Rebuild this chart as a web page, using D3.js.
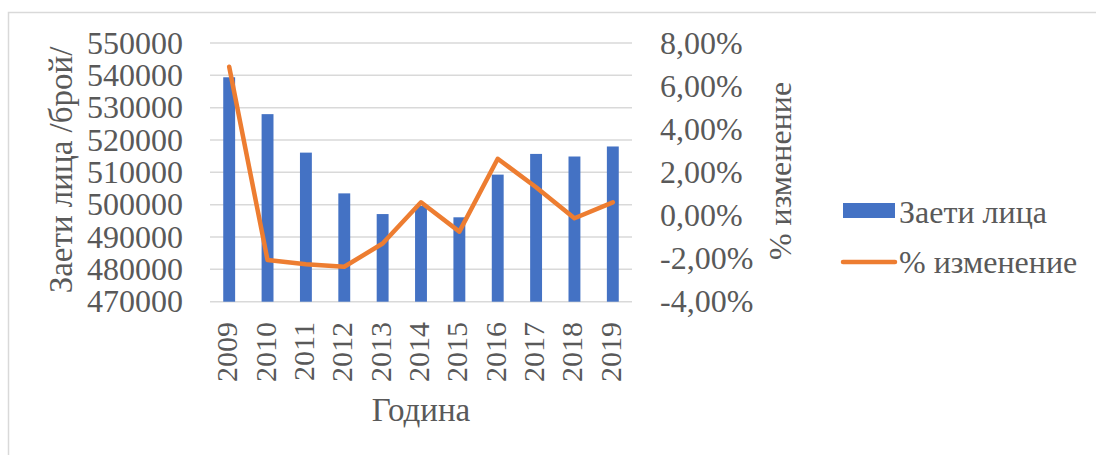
<!DOCTYPE html>
<html>
<head>
<meta charset="utf-8">
<script src="https://cdn.jsdelivr.net/npm/d3@7"></script>
<style>
  body { margin: 0; background: #fff; }
</style>
</head>
<body>
<svg id="chart" width="1096" height="455"></svg>
<script>
const years = ["2009", "2010", "2011", "2012", "2013", "2014", "2015", "2016", "2017", "2018", "2019"];
const employed = [539400, 528000, 516100, 503500, 497100, 499600, 496100, 509300, 515700, 514900, 518000];
const change = [6.9, -2.07, -2.26, -2.38, -1.3, 0.61, -0.75, 2.63, 1.31, -0.13, 0.61];
const leftTicks = [470000, 480000, 490000, 500000, 510000, 520000, 530000, 540000, 550000];
const rightTicks = [-4, -2, 0, 2, 4, 6, 8];

const margin = { top: 43, right: 464, bottom: 154, left: 210 };
const width = 1096;
const height = 455;
const serif = "'Liberation Serif', 'Times New Roman', serif";
const textColor = "#595959";

const svg = d3.select("#chart");

// chart area border (only top and left edges are visible)
svg.append("rect")
    .attr("x", 8.5).attr("y", 12.5)
    .attr("width", 1200).attr("height", 600)
    .attr("fill", "none")
    .attr("stroke", "#d9d9d9")
    .attr("stroke-width", 1.5);

const x = d3.scaleBand()
    .domain(years)
    .range([margin.left, width - margin.right])
    .paddingInner(0.69)
    .paddingOuter(0.345);

const y = d3.scaleLinear()
    .domain([470000, 550000])
    .range([height - margin.bottom + 0.7, margin.top]);

const y2 = d3.scaleLinear()
    .domain([-4, 8])
    .range([height - margin.bottom + 0.7, margin.top]);

const styleText = (sel, size) => sel
    .style("font-family", serif)
    .style("font-size", size + "px")
    .style("fill", textColor);

// gridlines
svg.append("g")
    .selectAll("line")
    .data(leftTicks)
    .join("line")
    .attr("x1", margin.left)
    .attr("x2", width - margin.right)
    .attr("y1", d => y(d))
    .attr("y2", d => y(d))
    .attr("stroke", "#d9d9d9")
    .attr("stroke-width", 1.5);

// bars
svg.append("g")
    .attr("fill", "#4472c4")
    .selectAll("rect")
    .data(years)
    .join("rect")
    .attr("x", d => x(d))
    .attr("width", x.bandwidth())
    .attr("y", (d, i) => y(employed[i]))
    .attr("height", (d, i) => y(470000) - y(employed[i]));

// line
const line = d3.line()
    .x((d, i) => x(years[i]) + x.bandwidth() / 2)
    .y(d => y2(d));

svg.append("path")
    .datum(change)
    .attr("fill", "none")
    .attr("stroke", "#ed7d31")
    .attr("stroke-width", 4.5)
    .attr("stroke-linejoin", "round")
    .attr("stroke-linecap", "round")
    .attr("d", line);

// left axis
const yAxis = g => g
    .attr("transform", `translate(183,0)`)
    .call(d3.axisLeft(y).tickValues(leftTicks).tickSize(0).tickPadding(0).tickFormat(d3.format("d")))
    .call(g => g.select(".domain").remove())
    .call(g => g.selectAll("text").call(styleText, 32));

svg.append("g").call(yAxis);

// right axis
const y2Axis = g => g
    .attr("transform", `translate(660,0)`)
    .call(d3.axisRight(y2).tickValues(rightTicks).tickSize(0).tickPadding(0)
        .tickFormat(d => d.toFixed(2).replace(".", ",") + "%"))
    .call(g => g.select(".domain").remove())
    .call(g => g.selectAll("text").call(styleText, 32));

svg.append("g").call(y2Axis);

// x axis labels
const xAxis = g => g
    .attr("transform", `translate(0,${height - margin.bottom})`)
    .call(d3.axisBottom(x).tickSize(0).tickPadding(0))
    .call(g => g.select(".domain").remove())
    .call(g => g.selectAll("text")
        .call(styleText, 30)
        .attr("text-anchor", "end")
        .attr("dy", null)
        .attr("transform", "translate(8,21) rotate(-90)"));

svg.append("g").call(xAxis);

// axis titles
svg.append("text")
    .attr("transform", "translate(72,170) rotate(-90)")
    .attr("text-anchor", "middle")
    .call(styleText, 33)
    .text("Заети лица /брой/");

svg.append("text")
    .attr("transform", "translate(791,171) rotate(-90)")
    .attr("text-anchor", "middle")
    .call(styleText, 32)
    .text("% изменение");

svg.append("text")
    .attr("x", 421)
    .attr("y", 421)
    .attr("text-anchor", "middle")
    .call(styleText, 33)
    .text("Година");

// legend
const legend = svg.append("g");
legend.append("rect")
    .attr("x", 843).attr("y", 203)
    .attr("width", 52).attr("height", 15)
    .attr("fill", "#4472c4");
legend.append("text")
    .attr("x", 899).attr("y", 223)
    .call(styleText, 32)
    .text("Заети лица");
legend.append("line")
    .attr("x1", 843).attr("x2", 895)
    .attr("y1", 262).attr("y2", 262)
    .attr("stroke", "#ed7d31")
    .attr("stroke-width", 4.5)
    .attr("stroke-linecap", "round");
legend.append("text")
    .attr("x", 899).attr("y", 273)
    .call(styleText, 32)
    .text("% изменение");
</script>
</body>
</html>
